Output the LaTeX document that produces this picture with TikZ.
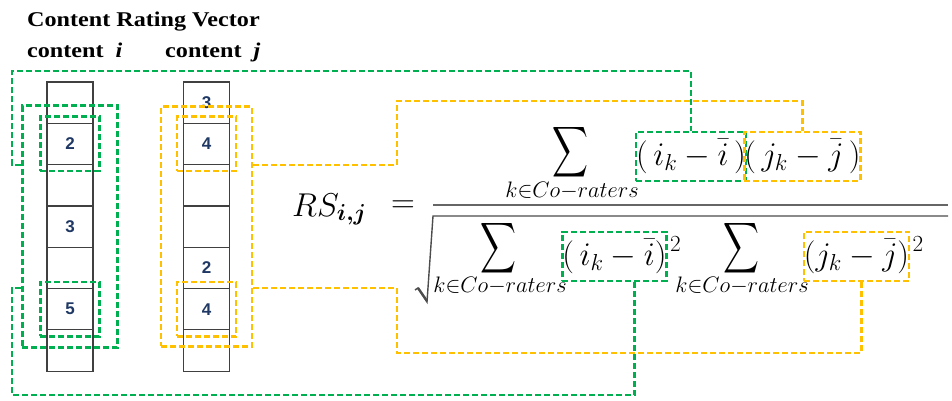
\RequirePackage{fix-cm}
\documentclass[tikz,border=0pt]{standalone}
\usepackage{fontspec}
\setmainfont{Liberation Serif}
\newfontfamily\cellfont{Liberation Sans}
\usepackage{amsmath}
\usepackage{graphicx}
\usetikzlibrary{positioning, calc, fit}
\definecolor{rgreen}{RGB}{0,176,80}
\definecolor{ryellow}{RGB}{255,192,0}
\definecolor{rnavy}{RGB}{31,56,100}
\newcommand{\bigsum}{\scalebox{1}[1.42]{$\displaystyle\sum$}}

\begin{document}
\begin{tikzpicture}[x=1pt, y=-1pt,
  ratecell/.style={rectangle, draw=black!75, line width=1.2pt, minimum width=46pt, minimum height=41.3pt, inner sep=0pt, font=\cellfont\bfseries\fontsize{17}{17}\selectfont, text=rnavy},
  gbox/.style={rectangle, draw=rgreen, line width=2.5pt, dash pattern=on 6pt off 3pt},
  ybox/.style={rectangle, draw=ryellow, line width=2.5pt, dash pattern=on 6pt off 3pt},
  gline/.style={draw=rgreen, line width=2.5pt, dash pattern=on 6pt off 3pt},
  yline/.style={draw=ryellow, line width=2.5pt, dash pattern=on 6pt off 3pt},
  eq/.style={font=\fontsize{33}{40}\selectfont, inner sep=0pt},
  lim/.style={font=\fontsize{32}{40}\selectfont, inner sep=0pt, anchor=base},
  hdr/.style={font=\bfseries\fontsize{21}{24}\selectfont, anchor=base west, inner sep=0pt},
]
  \useasboundingbox (0,0) rectangle (952,401);

  \node[hdr] (title) at (27,27) {\scalebox{1.15}[1]{Content Rating Vector}};
  \node[hdr] (ci) at (27,58) {\scalebox{1.15}[1]{content \ \textit{i}}};
  \node[hdr] (cj) at (165,58) {\scalebox{1.15}[1]{content \ \textit{j}}};

  \foreach \v [count=\r] in {{},2,{},3,{},5,{}}
    \node[ratecell] (a\r) at (70,{82+41.3*(\r-0.5)}) {\v};
  \foreach \v [count=\r] in {3,4,{},{},2,4,{}}
    \node[ratecell] (b\r) at (206.5,{82+41.3*(\r-0.5)}) {\v};

  \node[gbox, fit=(a2), inner sep=6pt] (ga2) {};
  \node[gbox, fit=(a6), inner sep=6pt] (ga6) {};
  \node[gbox, fit=(a2)(a6), inner xsep=24pt, inner ysep=17pt] (gout) {};
  \node[ybox, fit=(b2), inner sep=6pt] (yb2) {};
  \node[ybox, fit=(b6), inner sep=6pt] (yb6) {};
  \node[ybox, fit=(b2)(b6), inner xsep=22pt, inner ysep=16pt] (yout) {};

  \node[eq, anchor=base west] (rs) at (292,216) {$RS_{\boldsymbol{i,j}}$};
  \node[eq] (equal) at (403,207) {$=$};

  \node[eq] (sumn) at (570,152) {\bigsum};
  \node[lim] (limn) at (572,197) {$\scriptstyle k\in Co-raters$};
  \node[gbox, eq, minimum width=106pt, minimum height=49pt] (ni) at (691,156.5) {$(\,i_k-\bar{i}\,)$};
  \node[ybox, eq, minimum width=107pt, minimum height=49pt] (nj) at (802.5,156.5) {$(\,j_k-\bar{j}\,)$};

  \draw[line width=2pt, black!60] (433,205) -- (948,205);
  \draw[line width=1.4pt, black!70] (415,290) -- (418,288) -- (427,302) -- (433,216) -- (948,216);
  \draw[line width=2.4pt, black!70] (418,288) -- (427,301);

  \node[eq] (sumd1) at (498,248) {\bigsum};
  \node[lim] (limd1) at (500,292) {$\scriptstyle k\in Co-raters$};
  \node[gbox, eq, minimum width=101pt, minimum height=49pt] (di) at (614.5,256.5) {$(\,i_k-\bar{i})$};
  \node[eq, below right=6pt and 2pt of di.north east] (powi) {$\scriptstyle 2$};

  \node[eq] (sumd2) at (741,248) {\bigsum};
  \node[lim] (limd2) at (742,292) {$\scriptstyle k\in Co-raters$};
  \node[ybox, eq, minimum width=101pt, minimum height=49pt] (dj) at (856.5,256.5) {$(j_k-\bar{j})$};
  \node[eq, below right=6pt and 2pt of dj.north east] (powj) {$\scriptstyle 2$};

  \draw[yline] (yout.east |- a2.south) -| (397,101) -| (nj.north);
  \draw[gline] (gout.west |- a2.south) -| (12,71) -| (ni.north);
  \draw[yline] (yout.east |- a6.north) -| (397,353) -| ([xshift=5pt]dj.south);
  \draw[gline] (gout.west |- a6.north) -| (12,395) -| ([xshift=20pt]di.south);
\end{tikzpicture}
\end{document}
